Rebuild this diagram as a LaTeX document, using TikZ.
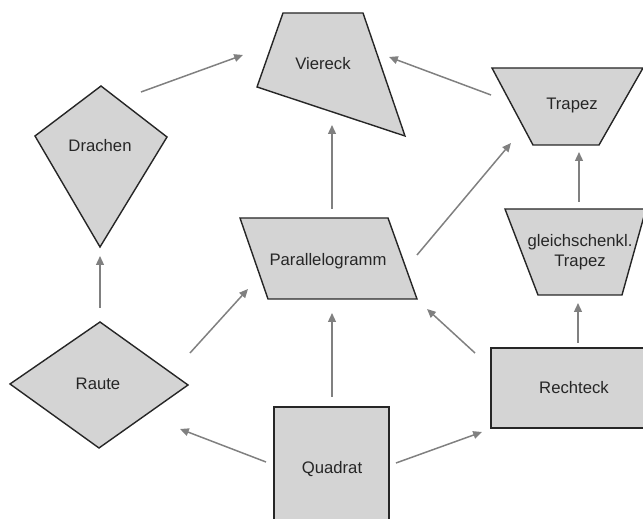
\documentclass[tikz,border=0pt]{standalone}
\usepackage{fontspec}
\setmainfont{Liberation Sans}
\usetikzlibrary{arrows.meta}

\tikzset{
flaeche/.style={draw=black!85,fill=black!17,line width=0.8pt,line join=miter},
beschriftung/.style={font=\fontsize{9.5}{11.5}\selectfont,align=center,text=black!85},
pfeil/.style={draw=black!50,line width=0.85pt,-{Triangle[length=5pt,width=4.4pt]}}
}

\begin{document}
\begin{tikzpicture}[x=0.02cm,y=-0.02cm]
\useasboundingbox (0,0) rectangle (643,519);
\clip (0,0) rectangle (643,519);

% The shapes
\draw[flaeche] (283,13) -- (363,13) -- (405,136) -- (257,87) -- cycle;
\draw[flaeche] (101,86) -- (167,137) -- (100,247) -- (35,136) -- cycle;
\draw[flaeche] (492,68) -- (643,68) -- (599,145) -- (533,145) -- cycle;
\draw[flaeche] (240,218) -- (388,218) -- (417,299) -- (268,299) -- cycle;
\draw[flaeche] (505,209) -- (646,209) -- (622,295) -- (538,295) -- cycle;
\draw[flaeche] (491,348) rectangle (660,428);
\draw[flaeche] (100,322) -- (188,385) -- (99,448) -- (10,384) -- cycle;
\draw[flaeche] (274,407) rectangle (389,530);

% The labels
\node[beschriftung] (viereck) at (323,64) {Viereck};
\node[beschriftung] (drachen) at (100,146) {Drachen};
\node[beschriftung] (trapez) at (572,105) {Trapez};
\node[beschriftung] (parallelogramm) at (328,261) {Parallelogramm};
\node[beschriftung] (gleichschenkl) at (580,252) {gleichschenkl.\\Trapez};
\node[beschriftung] (rechteck) at (574,388) {Rechteck};
\node[beschriftung] (raute) at (98,384) {Raute};
\node[beschriftung] (quadrat) at (332,469) {Quadrat};

% The arrow ends
\coordinate (d-v) at (141,92);    \coordinate (v-d) at (243,55);
\coordinate (t-v) at (491,95);    \coordinate (v-t) at (389,57);
\coordinate (p-v) at (332,209);   \coordinate (v-p) at (332,125);
\coordinate (p-t) at (417,255);   \coordinate (t-p) at (511,143);
\coordinate (g-t) at (579,202);   \coordinate (t-g) at (579,152);
\coordinate (r-g) at (578,343);   \coordinate (g-r) at (578,303);
\coordinate (r-p) at (475,353);   \coordinate (p-r) at (427,309);
\coordinate (q-p) at (332,397);   \coordinate (p-q) at (332,313);
\coordinate (q-r) at (396,463);   \coordinate (r-q) at (482,432);
\coordinate (q-ra) at (266,462);  \coordinate (ra-q) at (180,429);
\coordinate (ra-p) at (190,353);  \coordinate (p-ra) at (248,289);
\coordinate (ra-d) at (100,308);  \coordinate (d-ra) at (100,256);

% The arrows
\draw[pfeil] (d-v) -- (v-d);
\draw[pfeil] (t-v) -- (v-t);
\draw[pfeil] (p-v) -- (v-p);
\draw[pfeil] (p-t) -- (t-p);
\draw[pfeil] (g-t) -- (t-g);
\draw[pfeil] (r-g) -- (g-r);
\draw[pfeil] (r-p) -- (p-r);
\draw[pfeil] (q-p) -- (p-q);
\draw[pfeil] (q-r) -- (r-q);
\draw[pfeil] (q-ra) -- (ra-q);
\draw[pfeil] (ra-p) -- (p-ra);
\draw[pfeil] (ra-d) -- (d-ra);
\end{tikzpicture}
\end{document}
